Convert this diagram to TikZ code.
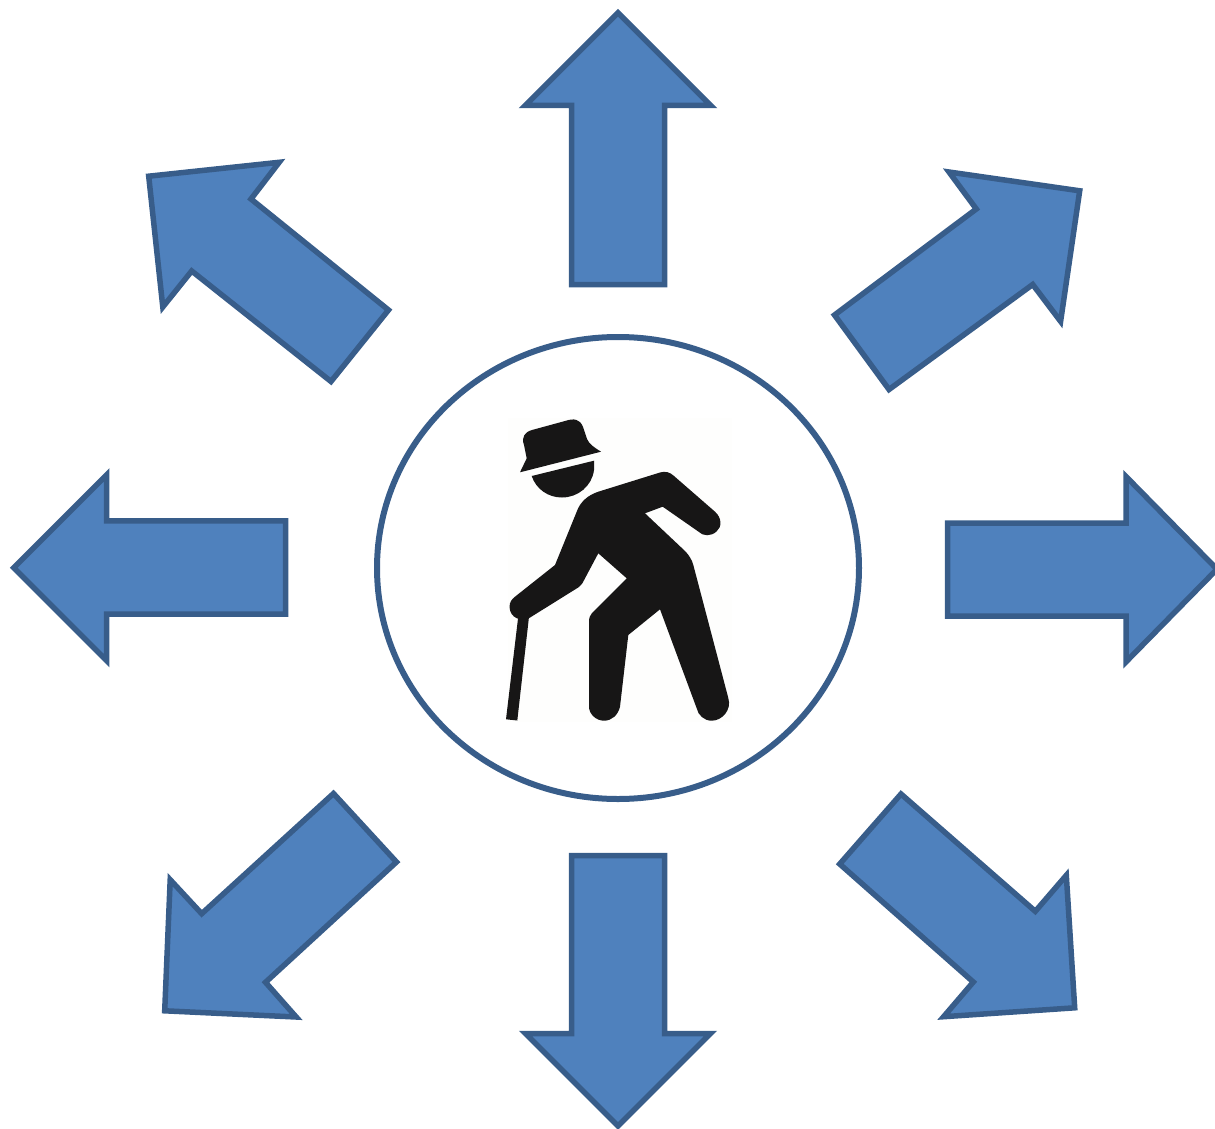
\documentclass[tikz,border=0pt]{standalone}
\definecolor{arrowfill}{HTML}{4F81BD}
\definecolor{arrowline}{HTML}{385D8A}
\definecolor{figure}{HTML}{171616}
\definecolor{iconback}{HTML}{FEFEFD}
\tikzset{
  bigarrow/.style={fill=arrowfill,draw=arrowline,line width=5.5pt,miter limit=10},
  ring/.style={fill=white,draw=arrowline,line width=6pt},
  person/.style={fill=figure,draw=none}
}
\begin{document}
\begin{tikzpicture}[x=1pt,y=-1pt]
\useasboundingbox (0,0) rectangle (1215,1129);
% arrows
\draw[bigarrow] (571.5,284.5)--(571.5,105.5)--(525.3,105.5)--(618,12.8)--(710.7,105.5)--(664.5,105.5)--(664.5,284.5)--cycle;
\draw[bigarrow] (947.5,523)--(1126,523)--(1126,476.5)--(1217,569.2)--(1126,661.9)--(1126,616)--(947.5,616)--cycle;
\draw[bigarrow] (571.5,855.5)--(664.5,855.5)--(664.5,1033.5)--(710.5,1033.5)--(618,1126)--(525.5,1033.5)--(571.5,1033.5)--cycle;
\draw[bigarrow] (285.5,520.8)--(106.7,520.8)--(106.7,474.7)--(13.7,567.7)--(106.7,660.7)--(106.7,614.2)--(285.5,614.2)--cycle;
\draw[bigarrow] (834.5,315)--(976.3,209)--(949,172)--(1079.7,190.8)--(1060.6,321.4)--(1032.7,284.5)--(889,389.5)--cycle;
\draw[bigarrow] (388.5,310)--(251,199)--(279.2,162.3)--(148.7,176.2)--(162.8,307)--(191.7,271)--(331,381.5)--cycle;
\draw[bigarrow] (333.5,793.5)--(201.7,913.7)--(170.2,879.7)--(164.7,1010.8)--(296.2,1017)--(265.5,982.3)--(396.5,862)--cycle;
\draw[bigarrow] (901,794)--(1035.3,911.3)--(1066.3,875.3)--(1074.7,1007.8)--(943.6,1016.7)--(973.3,982)--(839.7,864)--cycle;
% circle
\draw[ring] (618,568) ellipse [x radius=241,y radius=231];
\fill[iconback] (508,418) rectangle (732,722);
% hat
\fill[person] (524,445) .. controls (521,437) and (525,432) .. (532,430)
  -- (565,421) .. controls (574,418) and (580,419) .. (583,427)
  -- (587,439) .. controls (589,444) and (595,448) .. (601,451.7)
  -- (520,472.3) -- (526.7,458.3) -- cycle;
% face
\fill[person] (531.7,476) -- (594,460.7) -- (594,470)
  .. controls (592,486) and (578,497.5) .. (562,497.5)
  .. controls (548,497.5) and (536,489) .. (531.7,476) -- cycle;
% cane
\fill[person] (518.3,616) -- (529.3,614) -- (517.3,720.5) -- (506,719.3) -- cycle;
% body
\fill[person] (598.3,491.7) -- (660,472.5)
  .. controls (665,471) and (670,472) .. (674,476)
  -- (715,511.7) .. controls (722,518) and (722,527) .. (716.5,531.5)
  .. controls (711,536.5) and (703,536.5) .. (698.3,531.5)
  -- (662.7,506.7) -- (645,513.3) -- (685,551)
  .. controls (689,555) and (692,560) .. (693.3,565)
  -- (728.3,698) .. controls (732,710) and (722,720.7) .. (711.7,720.7)
  .. controls (704,720.7) and (698,715) .. (696.7,708.3)
  -- (660,609.3) -- (628.3,635) -- (620,706.7)
  .. controls (618,715) and (612,720.7) .. (604,720.7)
  .. controls (596,720.7) and (589,714) .. (589,706.7)
  -- (589,622) .. controls (589,618) and (590,615) .. (592,613)
  -- (626.7,578.3) -- (598.3,553.3) -- (585,578.3)
  .. controls (583,582) and (582,585) .. (579,587)
  -- (529.3,618) .. controls (521,622) and (510,618) .. (509.5,607)
  .. controls (509.5,602) and (512,599) .. (515,596.7)
  -- (555,565) -- (576.7,511.7)
  .. controls (580,502) and (588,495) .. (598.3,491.7) -- cycle;
\end{tikzpicture}
\end{document}
